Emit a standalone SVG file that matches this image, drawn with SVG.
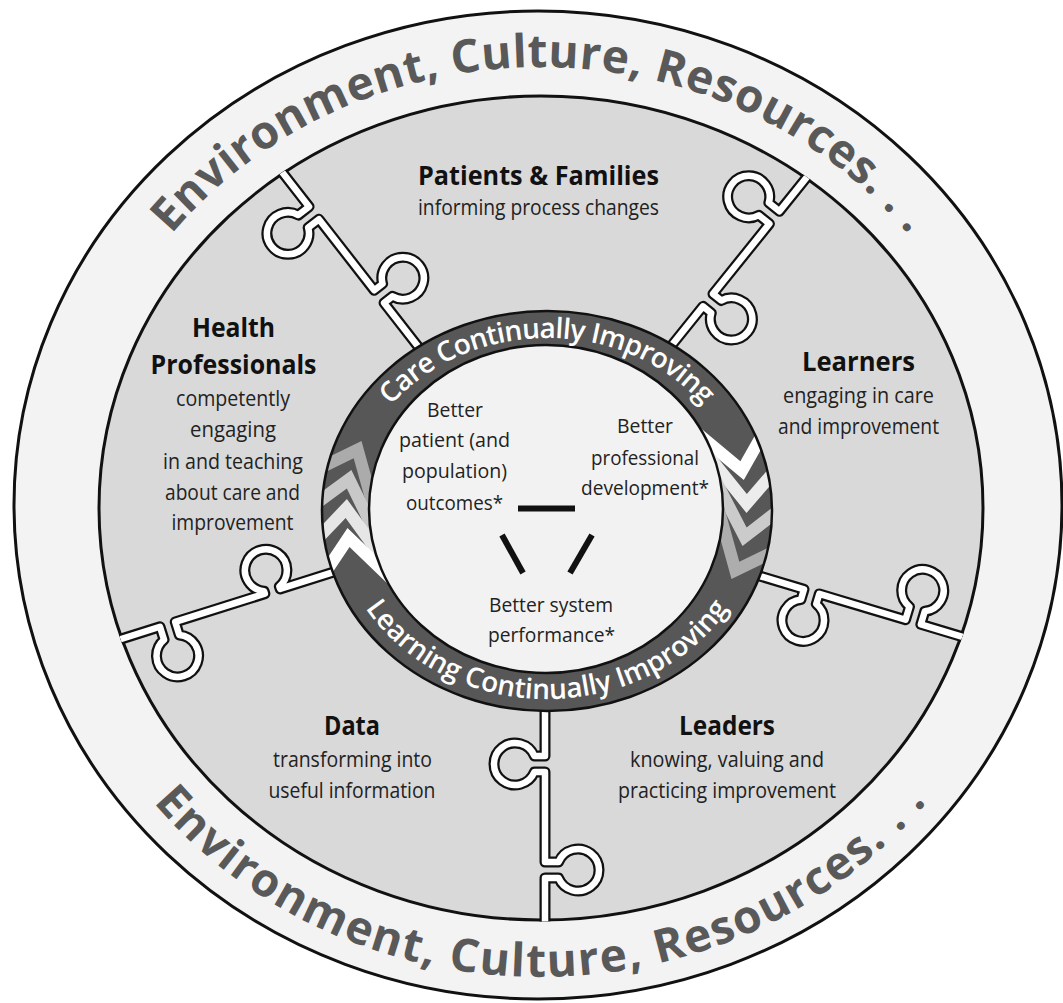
<svg xmlns="http://www.w3.org/2000/svg" width="1063" height="1003" viewBox="0 0 1063 1003">
<defs>
<style>
.hdr{font-family:"Open Sans","Liberation Sans",sans-serif;font-weight:700;font-size:27px;fill:#111;text-anchor:middle}
.txt{font-family:"Open Sans","Liberation Sans",sans-serif;font-size:22px;fill:#222;text-anchor:middle}
.ctr{font-family:"Open Sans","Liberation Sans",sans-serif;font-size:20px;fill:#222;text-anchor:middle}
.env{font-family:"Open Sans","Liberation Sans",sans-serif;font-weight:700;font-size:46px;fill:#595959;text-anchor:middle}
.band{font-family:"Open Sans","Liberation Sans",sans-serif;font-weight:600;font-size:28px;fill:#fff;text-anchor:middle}
.seam-o{fill:none;stroke:#111;stroke-width:11;stroke-linejoin:round}
.seam-i{fill:none;stroke:#fff;stroke-width:6.5;stroke-linejoin:round}
.bar{stroke:#111;stroke-width:6}
</style>
<!-- puzzle seams, drawn from the rim (x=0) inward along +x; tab heads r=21 -->
<path id="seam" d="M -30 0 L 44 0 L 44 13.6 A 21 21 0 1 0 60 13.6 L 60 0 L 150 0 L 150 -10.6 A 21 21 0 1 1 166 -10.6 L 166 0 L 260 0"/>
<path id="seamShort" d="M -30 0 L 44 0 L 44 13.6 A 21 21 0 1 0 60 13.6 L 60 0 L 154 0 L 154 -2.6 A 21 21 0 1 1 170 -2.6 L 170 0 L 260 0"/>
<clipPath id="inside"><ellipse cx="541" cy="508" rx="443.5" ry="413.5"/></clipPath>
<clipPath id="ringBand"><path clip-rule="evenodd" d="M 322 511 A 225 200 0 1 0 772 511 A 225 200 0 1 0 322 511 Z M 369 509 A 177 164 0 1 0 723 509 A 177 164 0 1 0 369 509 Z"/></clipPath>
<path id="envTop" d="M 70 508 A 470 441 0 0 1 1010 508"/>
<path id="envBot" d="M 43 508 A 497 469 0 0 0 1037 508"/>
<path id="careTop" d="M 350 511 A 197 173 0 0 1 744 511"/>
<path id="learnBot" d="M 335 511 A 212 188 0 0 0 759 511"/>
<polygon id="chevUp" points="-45,54 0,0 45,54 45,73 0,19 -45,73"/>
<polygon id="chevDn" points="-45,-54 0,0 45,-54 45,-73 0,-19 -45,-73"/>
</defs>

<rect width="1063" height="1003" fill="#fff"/>

<!-- outer context ring -->
<g id="context">
<ellipse cx="538" cy="505" rx="524" ry="494" fill="#f3f3f3" stroke="#111" stroke-width="3"/>
<text class="env"><textPath href="#envTop" startOffset="50%" textLength="835">Environment, Culture, Resources. . .</textPath></text>
<text class="env"><textPath href="#envBot" startOffset="50%" textLength="875">Environment, Culture, Resources. . .</textPath></text>
</g>

<!-- puzzle disc -->
<g id="pieces">
<ellipse cx="541" cy="508" rx="442" ry="412" fill="#d9d9d9" stroke="#111" stroke-width="3"/>
</g>

<g id="seams" clip-path="url(#inside)">
<g transform="translate(282,172) rotate(52.05)"><use href="#seam" class="seam-o"/><use href="#seam" class="seam-i"/></g>
<g transform="translate(807,177) rotate(128.8)"><use href="#seam" class="seam-o"/><use href="#seam" class="seam-i"/></g>
<g transform="translate(963,637) rotate(196.7)"><use href="#seam" class="seam-o"/><use href="#seam" class="seam-i"/></g>
<g transform="translate(118,640) rotate(-17.5)"><use href="#seamShort" class="seam-o"/><use href="#seamShort" class="seam-i"/></g>
<g transform="translate(545,922) rotate(-90)"><use href="#seam" class="seam-o"/><use href="#seam" class="seam-i"/></g>
</g>

<g id="patients">
<text class="hdr" x="538.5" y="185" textLength="241" lengthAdjust="spacingAndGlyphs">Patients &amp; Families</text>
<text class="txt" x="538.5" y="215" textLength="241" lengthAdjust="spacingAndGlyphs">informing process changes</text>
</g>
<g id="health-professionals">
<text class="hdr" x="233.5" y="337" textLength="83" lengthAdjust="spacingAndGlyphs">Health</text>
<text class="hdr" x="233.5" y="374" textLength="166" lengthAdjust="spacingAndGlyphs">Professionals</text>
<text class="txt" x="233" y="406" textLength="114" lengthAdjust="spacingAndGlyphs">competently</text>
<text class="txt" x="233" y="437" textLength="86" lengthAdjust="spacingAndGlyphs">engaging</text>
<text class="txt" x="233" y="469" textLength="140" lengthAdjust="spacingAndGlyphs">in and teaching</text>
<text class="txt" x="232.5" y="500" textLength="135" lengthAdjust="spacingAndGlyphs">about care and</text>
<text class="txt" x="232.5" y="530" textLength="122" lengthAdjust="spacingAndGlyphs">improvement</text>
</g>
<g id="learners">
<text class="hdr" x="858.5" y="371" textLength="113" lengthAdjust="spacingAndGlyphs">Learners</text>
<text class="txt" x="858.5" y="403" textLength="151" lengthAdjust="spacingAndGlyphs">engaging in care</text>
<text class="txt" x="858.5" y="434" textLength="161" lengthAdjust="spacingAndGlyphs">and improvement</text>
</g>
<g id="data">
<text class="hdr" x="352" y="735" textLength="56" lengthAdjust="spacingAndGlyphs">Data</text>
<text class="txt" x="352.5" y="767" textLength="159" lengthAdjust="spacingAndGlyphs">transforming into</text>
<text class="txt" x="352" y="798" textLength="167" lengthAdjust="spacingAndGlyphs">useful information</text>
</g>
<g id="leaders">
<text class="hdr" x="727" y="735" textLength="96" lengthAdjust="spacingAndGlyphs">Leaders</text>
<text class="txt" x="727" y="767" textLength="194" lengthAdjust="spacingAndGlyphs">knowing, valuing and</text>
<text class="txt" x="727" y="798" textLength="218" lengthAdjust="spacingAndGlyphs">practicing improvement</text>
</g>

<!-- improvement ring -->
<g id="improvement-ring">
<ellipse cx="547" cy="511" rx="225" ry="200" fill="#575757"/>
<g clip-path="url(#ringBand)">
<use href="#chevUp" transform="translate(361.5,441) rotate(24.3)" fill="#ababab"/>
<use href="#chevUp" transform="translate(351.4,470) rotate(13.9)" fill="#c8c8c8"/>
<use href="#chevUp" transform="translate(346.9,499) rotate(3.8)" fill="#e6e6e6"/>
<use href="#chevUp" transform="translate(347.5,528) rotate(-6.2)" fill="#ffffff"/>
<use href="#chevDn" transform="translate(743.8,480) rotate(-10.4)" fill="#ffffff"/>
<use href="#chevDn" transform="translate(746.5,513) rotate(1)" fill="#ececec"/>
<use href="#chevDn" transform="translate(742.5,546) rotate(12.5)" fill="#cbcbcb"/>
<use href="#chevDn" transform="translate(731.5,579) rotate(24.3)" fill="#adadad"/>
</g>
<ellipse cx="547" cy="511" rx="225" ry="200" fill="none" stroke="#111" stroke-width="2.5"/>
<ellipse cx="546" cy="509" rx="177" ry="164" fill="#f2f2f2" stroke="#111" stroke-width="2.5"/>
<text class="band"><textPath href="#careTop" startOffset="50%" textLength="350">Care Continually Improving</textPath></text>
<text class="band"><textPath href="#learnBot" startOffset="50%" textLength="422">Learning Continually Improving</textPath></text>
</g>

<g id="patient-outcomes">
<text class="ctr" x="455" y="417" textLength="56" lengthAdjust="spacingAndGlyphs">Better</text>
<text class="ctr" x="454.5" y="447" textLength="111" lengthAdjust="spacingAndGlyphs">patient (and</text>
<text class="ctr" x="454.5" y="478" textLength="105" lengthAdjust="spacingAndGlyphs">population)</text>
<text class="ctr" x="454.5" y="510" textLength="97" lengthAdjust="spacingAndGlyphs">outcomes*</text>
</g>
<g id="professional-development">
<text class="ctr" x="645" y="433" textLength="56" lengthAdjust="spacingAndGlyphs">Better</text>
<text class="ctr" x="645" y="465" textLength="108" lengthAdjust="spacingAndGlyphs">professional</text>
<text class="ctr" x="645" y="495" textLength="128" lengthAdjust="spacingAndGlyphs">development*</text>
</g>
<g id="system-performance">
<text class="ctr" x="551" y="612" textLength="124" lengthAdjust="spacingAndGlyphs">Better system</text>
<text class="ctr" x="551.5" y="642" textLength="127" lengthAdjust="spacingAndGlyphs">performance*</text>
</g>

<g id="connectors">
<line class="bar" x1="518" y1="508.5" x2="575" y2="508.5"/>
<line class="bar" x1="502" y1="535" x2="523" y2="573"/>
<line class="bar" x1="592" y1="535" x2="570" y2="573"/>
</g>
</svg>
